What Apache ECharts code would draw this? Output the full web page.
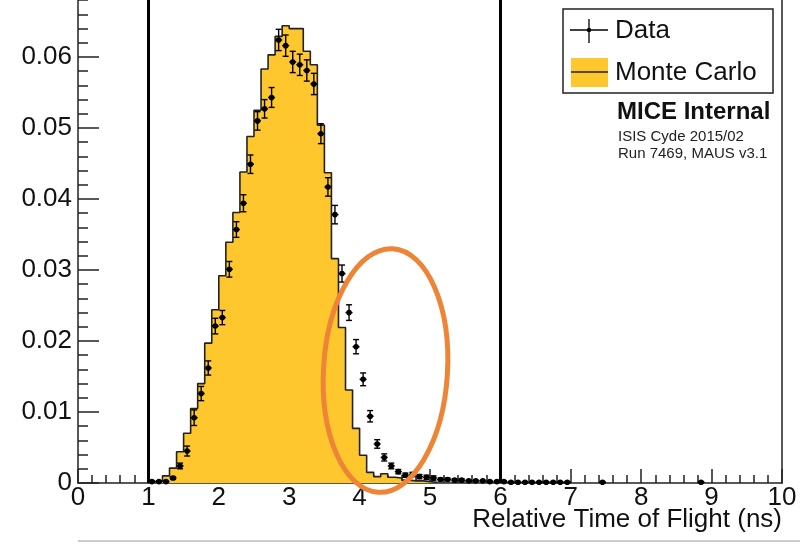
<!DOCTYPE html>
<html>
<head>
<meta charset="utf-8">
<script src="https://cdn.jsdelivr.net/npm/echarts@6/dist/echarts.min.js"></script>
<style>
  html, body { margin: 0; padding: 0; background: #fff; }
  #chart { width: 800px; height: 546px; }
</style>
</head>
<body>
<div id="chart"></div>
<script>
// Monte Carlo histogram, 0.1 ns bins starting at 1.0 ns
const mcBinStart = 1.0;
const binWidth = 0.1;
const mcValues = [
  0.0002, 0.0003, 0.0010, 0.0021, 0.0044, 0.0070, 0.0105, 0.0140, 0.0197, 0.0244,
  0.0292, 0.0339, 0.0381, 0.0438, 0.0488, 0.0525, 0.0583, 0.0603, 0.0629, 0.0644,
  0.0640, 0.0640, 0.0608, 0.0589, 0.0504, 0.0437, 0.0316, 0.0219, 0.0131, 0.0077,
  0.0039, 0.0015, 0.0009, 0.0013, 0.0008, 0.0007, 0.0004, 0.0003, 0.0003, 0.0002,
  0.0001
];

// Data points (bin centres, values, vertical errors)
const dataTime = [
  1.05, 1.15, 1.25, 1.35, 1.45, 1.55, 1.65, 1.75, 1.85, 1.95,
  2.05, 2.15, 2.25, 2.35, 2.45, 2.55, 2.65, 2.75, 2.85, 2.95,
  3.05, 3.15, 3.25, 3.35, 3.45, 3.55, 3.65, 3.75, 3.85, 3.95,
  4.05, 4.15, 4.25, 4.35, 4.45, 4.55, 4.65, 4.75, 4.85, 4.95,
  5.05, 5.15, 5.25, 5.35, 5.45, 5.55, 5.65, 5.75, 5.85, 5.95,
  6.05, 6.15, 6.25, 6.35, 6.45, 6.55, 6.65, 6.75, 6.85, 6.95,
  7.45, 8.85
];
const dataValues = [
  0.0002, 0.0002, 0.0002, 0.0007, 0.0024, 0.0045, 0.0092, 0.0126, 0.0162, 0.0221,
  0.0233, 0.0301, 0.0357, 0.0394, 0.0449, 0.0510, 0.0527, 0.0543, 0.0624, 0.0616,
  0.0593, 0.0589, 0.0581, 0.0562, 0.0492, 0.0417, 0.0378, 0.0295, 0.0240, 0.0192,
  0.0146, 0.0094, 0.0055, 0.0036, 0.0024, 0.0016, 0.0011, 0.0012, 0.0009, 0.0008,
  0.0007, 0.0005, 0.0005, 0.0004, 0.0004, 0.0003, 0.0003, 0.0003, 0.0002, 0.0002,
  0.0002, 0.0001, 0.0001, 0.0001, 0.0001, 0.0001, 0.0001, 0.0001, 0.0001, 0.0001,
  0.0001, 0.0001
];
const dataErrors = [
  0.0001, 0.0001, 0.0001, 0.0002, 0.0004, 0.0007, 0.0011, 0.0010, 0.0010, 0.0011,
  0.0010, 0.0011, 0.0011, 0.0012, 0.0013, 0.0013, 0.0013, 0.0014, 0.0015, 0.0015,
  0.0015, 0.0015, 0.0015, 0.0015, 0.0014, 0.0013, 0.0013, 0.0012, 0.0011, 0.0010,
  0.0009, 0.0008, 0.0006, 0.0005, 0.0004, 0.0003, 0.0003, 0.0003, 0.0003, 0.0003,
  0.0003, 0.0002, 0.0002, 0.0002, 0.0002, 0.0001, 0.0001, 0.0001, 0.0001, 0.0001,
  0.0001, 0.0001, 0.0001, 0.0001, 0.0001, 0.0001, 0.0001, 0.0001, 0.0001, 0.0001,
  0.0001, 0.0001
];

const cutLines = [1, 6];
const FONT = '"Liberation Sans", Arial, Helvetica, sans-serif';
const mcColor = '#FFC72E';

// step outline of the MC histogram
const mcStep = [[mcBinStart, 0]];
mcValues.forEach(function (v, i) {
  mcStep.push([mcBinStart + i * binWidth, v]);
});
mcStep.push([mcBinStart + mcValues.length * binWidth, 0]);

const points = dataTime.map(function (t, i) {
  return [t, dataValues[i], dataErrors[i]];
});

function renderPoint(params, api) {
  const x = api.value(0), y = api.value(1), e = api.value(2);
  const c = api.coord([x, y]);
  const top = api.coord([x, y + e]);
  const bot = api.coord([x, Math.max(y - e, 0)]);
  const l = api.coord([x - binWidth / 2, y]);
  const r = api.coord([x + binWidth / 2, y]);
  const st = { stroke: '#000', lineWidth: 1.4 };
  return {
    type: 'group',
    children: [
      { type: 'line', shape: { x1: c[0], y1: top[1], x2: c[0], y2: bot[1] }, style: st },
      { type: 'line', shape: { x1: c[0] - 3, y1: top[1], x2: c[0] + 3, y2: top[1] }, style: st },
      { type: 'line', shape: { x1: c[0] - 3, y1: bot[1], x2: c[0] + 3, y2: bot[1] }, style: st },
      { type: 'line', shape: { x1: l[0], y1: c[1], x2: r[0], y2: c[1] }, style: st },
      { type: 'circle', shape: { cx: c[0], cy: c[1], r: 2.8 }, style: { fill: '#000' } }
    ]
  };
}

const chart = echarts.init(document.getElementById('chart'));
chart.setOption({
  animation: false,
  backgroundColor: '#fff',
  textStyle: { fontFamily: FONT },
  grid: { left: 78, right: 18, top: -14, bottom: 63, outerBoundsMode: 'none', containLabel: false },
  xAxis: {
    type: 'value',
    min: 0,
    max: 10,
    interval: 1,
    axisLine: { lineStyle: { color: '#222', width: 1.5 } },
    axisTick: { inside: true, length: 14, lineStyle: { color: '#222', width: 1.5 } },
    minorTick: { show: true, splitNumber: 5, length: 8, lineStyle: { color: '#222', width: 1.5 } },
    axisLabel: { color: '#111', fontSize: 26, fontFamily: FONT, margin: 2 },
    splitLine: { show: false }
  },
  yAxis: [{
    type: 'value',
    min: 0,
    max: 0.07,
    interval: 0.01,
    axisLine: { show: true, lineStyle: { color: '#222', width: 1.5 } },
    axisTick: { inside: true, length: 21, lineStyle: { color: '#222', width: 1.5 } },
    minorTick: { show: true, splitNumber: 5, length: 10, lineStyle: { color: '#222', width: 1.5 } },
    axisLabel: { color: '#111', fontSize: 26, fontFamily: FONT, margin: 6 },
    splitLine: { show: false }
  }, {
    type: 'value',
    position: 'right',
    min: 0,
    max: 0.07,
    axisLine: { show: true, lineStyle: { color: '#222', width: 1.5 } },
    axisTick: { show: false },
    axisLabel: { show: false },
    splitLine: { show: false }
  }],
  series: [{
    name: 'Monte Carlo',
    type: 'line',
    step: 'end',
    data: mcStep,
    symbol: 'none',
    lineStyle: { color: '#222', width: 1.6 },
    areaStyle: { color: mcColor, opacity: 1 },
    z: 2,
    markLine: {
      silent: true,
      symbol: ['none', 'none'],
      label: { show: false },
      lineStyle: { color: '#000', width: 3, type: 'solid' },
      data: cutLines.map(function (v) { return { xAxis: v }; })
    }
  }, {
    name: 'Data',
    type: 'custom',
    renderItem: renderPoint,
    data: points,
    z: 3
  }],
  graphic: [
    // legend
    { type: 'rect', shape: { x: 563, y: 9, width: 210, height: 84 },
      style: { fill: '#fff', stroke: '#222', lineWidth: 1.5 }, z: 50 },
    { type: 'line', shape: { x1: 570, y1: 30, x2: 608, y2: 30 }, style: { stroke: '#000', lineWidth: 1.3 }, z: 51 },
    { type: 'line', shape: { x1: 589, y1: 19, x2: 589, y2: 43 }, style: { stroke: '#000', lineWidth: 1.3 }, z: 51 },
    { type: 'circle', shape: { cx: 589, cy: 30, r: 2.2 }, style: { fill: '#000' }, z: 51 },
    { type: 'rect', shape: { x: 571, y: 58, width: 37, height: 29 }, style: { fill: mcColor }, z: 51 },
    { type: 'line', shape: { x1: 571, y1: 72, x2: 608, y2: 72 }, style: { stroke: '#222', lineWidth: 1.6 }, z: 52 },
    { type: 'text', x: 615, y: 30.5, style: { text: 'Data', font: '26px ' + FONT, fill: '#111', verticalAlign: 'middle' }, z: 51 },
    { type: 'text', x: 615, y: 72.5, style: { text: 'Monte Carlo', font: '26px ' + FONT, fill: '#111', verticalAlign: 'middle' }, z: 51 },
    // labels
    { type: 'text', x: 617, y: 112.5, style: { text: 'MICE Internal', font: 'bold 24px ' + FONT, fill: '#111', verticalAlign: 'middle' }, z: 51 },
    { type: 'text', x: 618, y: 137, style: { text: 'ISIS Cyde 2015/02', font: '15px ' + FONT, fill: '#222', verticalAlign: 'middle' }, z: 51 },
    { type: 'text', x: 618, y: 154, style: { text: 'Run 7469, MAUS v3.1', font: '15px ' + FONT, fill: '#222', verticalAlign: 'middle' }, z: 51 },
    // x axis title
    { type: 'text', x: 782, y: 520, style: { text: 'Relative Time of Flight (ns)', font: '26px ' + FONT, fill: '#111', align: 'right', verticalAlign: 'middle' }, z: 51 },
    // pad edge below
    { type: 'line', shape: { x1: 78, y1: 541, x2: 800, y2: 541 }, style: { stroke: '#999', lineWidth: 1 }, z: 1 },
    // hand-drawn highlight
    { type: 'ellipse', x: 385.5, y: 370.5, rotation: -0.06, shape: { cx: 0, cy: 0, rx: 62, ry: 122 },
      style: { fill: 'none', stroke: '#EE8436', lineWidth: 5 }, z: 100 }
  ]
});
</script>
</body>
</html>
